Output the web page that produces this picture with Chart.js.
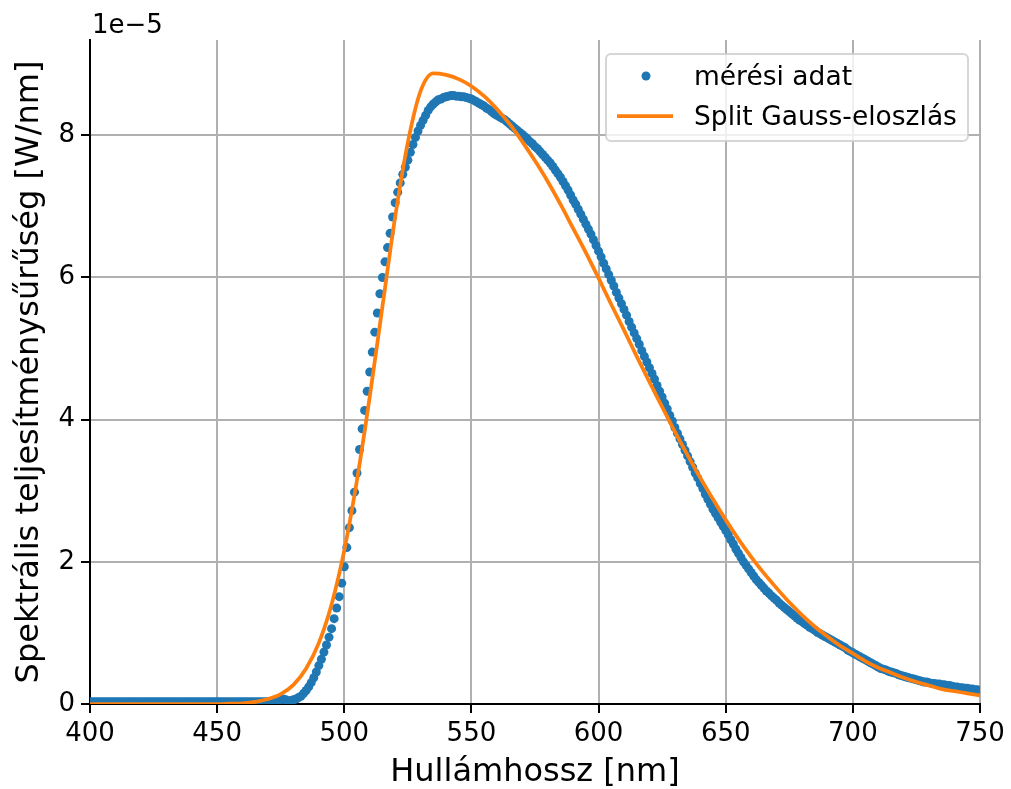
<!DOCTYPE html>
<html lang="hu">
<head>
<meta charset="UTF-8">
<title>Spektrum</title>
<script src="https://cdn.jsdelivr.net/npm/chart.js"></script>
<style>
    body { margin: 0; background: #fff; }
    .wrap { width: 1011px; height: 789px; }
</style>
</head>
<body>
<div class="wrap"><canvas id="spec" width="1011" height="789"></canvas></div>
<script>
// mért spektrum, 1 nm-es lépésköz 400 nm-től (értékek 1e-5 W/nm egységben)
const measStart = 400;
const measStep = 1;
const measY = [
    0.03,0.03,0.03,0.03,0.03,0.03,0.03,0.03,0.03,0.03,
    0.03,0.03,0.03,0.03,0.03,0.03,0.03,0.03,0.03,0.03,
    0.03,0.03,0.03,0.03,0.03,0.03,0.03,0.03,0.03,0.03,
    0.03,0.03,0.03,0.03,0.03,0.03,0.03,0.03,0.03,0.03,
    0.03,0.03,0.03,0.03,0.03,0.03,0.03,0.03,0.03,0.03,
    0.03,0.03,0.03,0.03,0.03,0.03,0.03,0.03,0.03,0.03,
    0.03,0.03,0.03,0.03,0.03,0.03,0.03,0.03,0.03,0.03,
    0.03,
    0.03,0.03,0.03,0.04,0.06,0.07,0.06,0.04,0.05,0.06,
    0.07,0.09,0.11,0.15,0.19,0.24,0.30,0.37,0.45,0.54,
    0.63,0.73,0.83,0.94,1.06,1.20,1.35,1.51,1.70,1.93,
    2.20,2.48,2.72,2.98,3.25,3.58,3.87,4.13,4.40,4.67,
    4.95,5.23,5.50,5.77,6.00,6.22,6.42,6.62,6.85,7.05,
    7.20,7.33,7.45,7.55,7.65,7.76,7.87,7.97,8.06,8.14,
    8.21,8.28,8.35,8.40,8.44,8.47,8.50,8.51,8.53,8.54,
    8.55,8.56,8.56,8.55,8.55,8.54,8.54,8.53,8.52,8.51,
    8.49,8.47,8.45,8.43,8.41,8.38,8.36,8.33,8.30,8.28,
    8.26,8.24,8.22,8.19,8.16,8.13,8.10,8.07,8.04,8.01,
    7.98,7.95,7.91,7.88,7.84,7.81,7.77,7.73,7.69,7.65,
    7.61,7.56,7.51,7.46,7.41,7.35,7.29,7.23,7.16,7.09,
    7.03,6.96,6.89,6.82,6.75,6.68,6.61,6.53,6.45,6.37,
    6.29,6.20,6.12,6.04,5.96,5.88,5.79,5.71,5.63,5.55,
    5.47,5.38,5.30,5.22,5.14,5.06,4.97,4.89,4.81,4.73,
    4.65,4.57,4.48,4.40,4.32,4.23,4.15,4.06,3.98,3.89,
    3.81,3.73,3.65,3.57,3.49,3.41,3.33,3.25,3.18,3.10,
    3.03,2.95,2.88,2.81,2.74,2.68,2.62,2.56,2.50,2.44,
    2.38,2.31,2.25,2.18,2.12,2.06,2.00,1.95,1.90,1.85,
    1.80,1.75,1.71,1.67,1.63,1.59,1.56,1.52,1.49,1.46,
    1.42,1.39,1.36,1.33,1.30,1.27,1.24,1.21,1.18,1.16,
    1.13,1.11,1.08,1.06,1.04,1.01,0.99,0.97,0.95,0.93,
    0.91,0.89,0.87,0.85,0.83,0.81,0.79,0.76,0.74,0.72,
    0.70,0.68,0.66,0.64,0.62,0.60,0.58,0.56,0.54,0.52,
    0.50,0.49,0.48,0.46,0.45,0.44,0.43,0.41,0.40,0.39,
    0.38,0.37,0.36,0.35,0.34,0.33,0.32,0.31,0.31,0.30,
    0.29,0.29,0.28,0.28,0.27,0.27,0.26,0.26,0.25,0.24,
    0.24,0.23,0.23,0.22,0.22,0.21,0.21,0.20,0.20,0.19
];

// illesztett split Gauss görbe (leolvasott pontok)
const fitX = [400,405,410,415,420,425,430,435,440,445,450,455,460,465,470,475,480,485,490,495,
              500,505,510,515,520,525,530,535,540,545,550,555,560,565,570,575,580,585,590,595,
              600,605,610,615,620,625,630,635,640,645,650,655,660,665,670,675,680,685,690,695,
              700,705,710,715,720,725,730,735,740,745,750];
const fitY = [0,0,0,0,0,0,0,0,0,0,0,0.005,0.01,0.03,0.07,0.14,0.27,0.50,0.86,1.40,
              2.16,3.15,4.32,5.59,6.85,7.90,8.62,8.87,8.85,8.79,8.69,8.55,8.37,8.16,7.91,7.64,7.35,7.03,6.69,6.35,
              5.99,5.62,5.26,4.89,4.53,4.18,3.83,3.50,3.18,2.88,2.59,2.32,2.07,1.84,1.63,1.43,1.25,1.09,0.95,0.82,
              0.71,0.60,0.51,0.44,0.37,0.31,0.26,0.21,0.18,0.15,0.12];

const xTicks = [400,450,500,550,600,650,700,750];
const yTicks = [0,2,4,6,8];
const yOffsetLabel = '1e\u22125';
const seriesNames = ['mérési adat', 'Split Gauss-eloszlás'];

const BLUE = '#1f77b4';
const ORANGE = '#ff7f0e';
const FONT = 'DejaVu Sans';

const measPoints = measY.map((v, i) => ({ x: measStart + i * measStep, y: v }));
const fitPoints = fitX.map((x, i) => ({ x: x, y: fitY[i] }));

// matplotlib-szerű jelmagyarázat és 1e-5 szorzó
const extrasPlugin = {
    id: 'extras',
    afterDraw(chart) {
        const ctx = chart.ctx;
        const area = chart.chartArea;
        ctx.save();
        // offset szöveg
        ctx.fillStyle = '#000';
        ctx.font = '26px "' + FONT + '"';
        ctx.textAlign = 'left';
        ctx.textBaseline = 'alphabetic';
        ctx.fillText(yOffsetLabel, area.left + 2, 33);

        // legend doboz
        const bx = 606, by = 54, bw = 362, bh = 87, r = 5;
        ctx.beginPath();
        ctx.moveTo(bx + r, by);
        ctx.arcTo(bx + bw, by, bx + bw, by + bh, r);
        ctx.arcTo(bx + bw, by + bh, bx, by + bh, r);
        ctx.arcTo(bx, by + bh, bx, by, r);
        ctx.arcTo(bx, by, bx + bw, by, r);
        ctx.closePath();
        ctx.fillStyle = 'rgba(255,255,255,0.8)';
        ctx.fill();
        ctx.strokeStyle = 'rgba(204,204,204,0.8)';
        ctx.lineWidth = 2;
        ctx.stroke();

        ctx.fillStyle = BLUE;
        ctx.beginPath();
        ctx.arc(646, 76, 4.5, 0, Math.PI * 2);
        ctx.fill();

        ctx.strokeStyle = ORANGE;
        ctx.lineWidth = 3.75;
        ctx.beginPath();
        ctx.moveTo(617, 116);
        ctx.lineTo(673, 116);
        ctx.stroke();

        ctx.fillStyle = '#000';
        ctx.font = '26.5px "' + FONT + '"';
        ctx.fillText(seriesNames[0], 694, 85);
        ctx.fillText(seriesNames[1], 694, 125);
        ctx.restore();
    }
};

const ctx = document.getElementById('spec').getContext('2d');
new Chart(ctx, {
    type: 'scatter',
    data: {
        datasets: [
            {
                label: seriesNames[1],
                type: 'line',
                data: fitPoints,
                borderColor: ORANGE,
                borderWidth: 3.75,
                pointRadius: 0,
                fill: false,
                cubicInterpolationMode: 'monotone',
                order: 1
            },
            {
                label: seriesNames[0],
                data: measPoints,
                backgroundColor: BLUE,
                borderWidth: 0,
                pointRadius: 4.5,
                showLine: false,
                order: 2
            }
        ]
    },
    options: {
        responsive: false,
        animation: false,
        layout: { padding: { top: 40, right: 31, left: 0, bottom: 0 } },
        plugins: {
            legend: { display: false },
            tooltip: { enabled: false }
        },
        scales: {
            x: {
                type: 'linear',
                min: 400,
                max: 750,
                afterBuildTicks: s => { s.ticks = xTicks.map(v => ({ value: v })); },
                afterFit: s => { s.height = 85; },
                grid: { color: '#b0b0b0', lineWidth: 2, tickLength: 9, tickColor: '#000', tickWidth: 2 },
                border: { color: '#000', width: 2 },
                ticks: {
                    color: '#000', font: { family: FONT, size: 26 }, padding: 6,
                    maxRotation: 0, autoSkip: false,
                    callback: v => String(v)
                },
                title: {
                    display: true, text: 'Hullámhossz [nm]', color: '#000',
                    font: { family: FONT, size: 32, lineHeight: 1 }, padding: { top: 0, bottom: 0 }
                }
            },
            y: {
                min: 0,
                max: 9.34,
                afterBuildTicks: s => { s.ticks = yTicks.map(v => ({ value: v })); },
                afterFit: s => { s.width = 90; },
                grid: { color: '#b0b0b0', lineWidth: 2, tickLength: 9, tickColor: '#000', tickWidth: 2 },
                border: { color: '#000', width: 2 },
                ticks: {
                    color: '#000', font: { family: FONT, size: 26 }, padding: 6,
                    callback: v => String(v)
                },
                title: {
                    display: true, text: 'Spektrális teljesítménysűrűség [W/nm]', color: '#000',
                    font: { family: FONT, size: 32, lineHeight: 1 }, padding: { top: 14, bottom: 0 }
                }
            }
        }
    },
    plugins: [extrasPlugin]
});
</script>
</body>
</html>
